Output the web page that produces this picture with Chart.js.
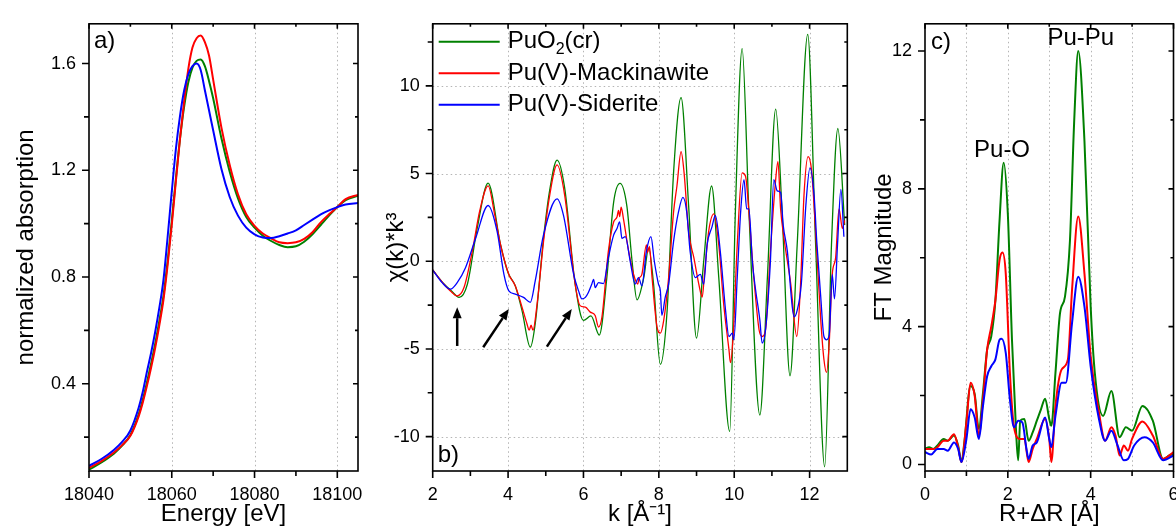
<!DOCTYPE html>
<html>
<head>
<meta charset="utf-8">
<script src="https://cdn.jsdelivr.net/npm/chart.js@4.4.1/dist/chart.umd.min.js"></script>
<style>
  html, body { margin: 0; padding: 0; background: #fff; overflow: hidden; width: 1176px; height: 529px; }
  canvas { position: absolute; top: 0; }
</style>
</head>
<body>
<canvas id="panelA" width="390" height="529" style="left:0px"></canvas>
<canvas id="panelB" width="490" height="529" style="left:366px"></canvas>
<canvas id="panelC" width="340" height="529" style="left:856px"></canvas>
<script>
// series names (legend of panel b)
var seriesNames = ['PuO₂(cr)', 'Pu(V)-Mackinawite', 'Pu(V)-Siderite'];

// ---- panel a: XANES ----
var energy = [18040, 18043, 18046, 18048, 18050, 18052, 18053, 18054, 18055, 18056, 18057, 18058, 18059, 18060,
  18061, 18062, 18063, 18064, 18065, 18066, 18067, 18068, 18069, 18070, 18072, 18074, 18076, 18078, 18080,
  18082, 18084, 18086, 18088, 18090, 18092, 18094, 18096, 18098, 18100, 18102, 18105];
var xanesPuO2 = [0.078, 0.105, 0.138, 0.168, 0.208, 0.285, 0.340, 0.405, 0.475, 0.550, 0.635, 0.730, 0.860, 1.010,
  1.170, 1.320, 1.440, 1.530, 1.585, 1.610, 1.615, 1.590, 1.535, 1.470, 1.320, 1.195, 1.095, 1.025, 0.985,
  0.955, 0.935, 0.920, 0.912, 0.915, 0.932, 0.960, 0.995, 1.030, 1.062, 1.088, 1.105];
var xanesMack = [0.085, 0.110, 0.142, 0.170, 0.205, 0.278, 0.330, 0.392, 0.460, 0.535, 0.620, 0.715, 0.845, 0.995,
  1.160, 1.320, 1.460, 1.580, 1.660, 1.695, 1.705, 1.680, 1.630, 1.540, 1.360, 1.220, 1.110, 1.035, 0.992,
  0.963, 0.945, 0.930, 0.927, 0.930, 0.943, 0.968, 1.005, 1.035, 1.062, 1.092, 1.108];
var xanesSid = [0.092, 0.118, 0.152, 0.182, 0.225, 0.310, 0.370, 0.445, 0.515, 0.595, 0.685, 0.790, 0.950, 1.120,
  1.280, 1.405, 1.500, 1.560, 1.590, 1.600, 1.575, 1.500, 1.425, 1.350, 1.205, 1.100, 1.030, 0.985, 0.960,
  0.948, 0.946, 0.953, 0.963, 0.975, 0.995, 1.015, 1.035, 1.050, 1.062, 1.072, 1.077];
var aTicksX = [18040, 18060, 18080, 18100];
var aMinorX = [18050, 18070, 18090];
var aTicksY = [0.4, 0.8, 1.2, 1.6];
var aMinorY = [0.2, 0.6, 1.0, 1.4];

// ---- panel b: k^3 weighted EXAFS, [k, chi*k^3] ----
var exafsPuO2 = [[2.0,-0.5],[2.3,-1.3],[2.5,-1.7],[2.7,-2.06],[2.92,-1.31],[3.18,1.87],[3.47,4.45],[3.8,0.94],
  [4.0,-0.66],[4.19,-1.4],[4.37,-2.81],[4.59,-4.9],[4.72,-3.56],[4.94,1.31],[5.1,4.0],[5.3,5.77],[5.5,4.2],
  [5.78,-1.31],[6.0,-3.37],[6.2,-3.12],[6.42,-4.21],[6.62,-0.93],[6.8,3.36],[6.97,4.44],[7.15,3.17],[7.29,0.0],
  [7.42,-2.2],[7.6,-0.93],[7.73,0.75],[7.86,-1.3],[8.04,-5.88],[8.22,-2.8],[8.39,5.04],[8.59,9.33],[8.79,3.17],
  [9.0,-4.38],[9.19,0.0],[9.4,4.29],[9.59,-0.93],[9.88,-9.7],[10.03,2.8],[10.21,12.13],[10.39,2.8],[10.68,-8.77],
  [10.88,-0.93],[11.1,8.68],[11.27,2.8],[11.48,-6.53],[11.67,0.93],[11.95,12.94],[12.16,0.93],[12.4,-11.72],
  [12.58,0.93],[12.75,7.57],[12.93,2.07]];
var exafsMack = [[2.0,-0.5],[2.3,-1.31],[2.47,-1.69],[2.65,-1.97],[2.83,-1.5],[3.05,0.56],[3.25,2.9],[3.47,4.3],
  [3.65,2.6],[3.8,0.94],[4.02,-0.75],[4.19,-1.4],[4.37,-2.62],[4.5,-3.56],[4.56,-3.93],[4.61,-3.65],[4.66,-3.93],
  [4.77,-2.43],[4.94,1.12],[5.1,3.7],[5.3,5.49],[5.5,3.79],[5.78,-1.31],[5.91,-2.53],[6.05,-2.62],[6.18,-2.9],
  [6.31,-3.09],[6.4,-3.75],[6.49,-3.18],[6.66,0.56],[6.8,2.24],[6.89,2.52],[6.93,2.9],[6.96,2.55],[7.0,3.08],
  [7.06,2.43],[7.2,0.56],[7.33,-0.75],[7.44,-1.3],[7.47,-1.0],[7.55,-0.75],[7.67,0.93],[7.7,0.5],[7.75,0.85],
  [7.82,-0.93],[7.95,-3.73],[8.04,-4.1],[8.13,-3.36],[8.26,-0.93],[8.39,2.8],[8.48,4.29],[8.59,6.25],[8.67,5.04],
  [8.79,1.68],[8.93,0.19],[9.06,-1.3],[9.15,-2.05],[9.21,-0.75],[9.32,1.68],[9.46,2.7],[9.59,0.93],[9.72,-2.43],
  [9.86,-5.04],[9.9,-5.78],[9.97,-4.29],[10.08,0.93],[10.21,5.04],[10.3,4.85],[10.39,2.8],[10.52,-0.93],
  [10.66,-3.92],[10.74,-4.29],[10.83,-3.92],[10.96,0.56],[11.1,4.66],[11.16,5.69],[11.23,2.99],[11.32,1.31],
  [11.5,-1.3],[11.66,-4.29],[11.76,-1.3],[11.85,3.73],[11.96,5.97],[12.05,5.22],[12.16,1.68],[12.29,-3.17],
  [12.38,-5.6],[12.45,-6.34],[12.52,-4.66],[12.6,-0.75],[12.69,0.19],[12.78,2.99],[12.87,1.87],[12.93,2.33]];
var exafsSid = [[2.0,-0.5],[2.25,-1.22],[2.47,-1.59],[2.65,-1.22],[2.87,-0.37],[3.14,1.31],[3.47,3.18],[3.71,1.69],
  [3.89,-0.75],[4.02,-1.69],[4.19,-1.87],[4.41,-2.06],[4.59,-2.34],[4.72,-1.12],[4.94,1.5],[5.3,3.56],[5.47,2.62],
  [5.74,-0.75],[5.87,-1.69],[5.96,-2.15],[6.05,-2.06],[6.13,-1.78],[6.22,-1.31],[6.27,-1.03],[6.31,-1.5],
  [6.4,-1.22],[6.53,-1.27],[6.66,0.19],[6.8,1.49],[6.89,1.87],[6.96,2.24],[7.02,1.31],[7.11,1.4],[7.24,0.0],
  [7.37,-1.3],[7.46,-0.93],[7.55,-1.4],[7.67,0.56],[7.79,1.4],[7.88,0.0],[7.99,-1.3],[8.04,-1.68],[8.08,-3.08],
  [8.17,-2.05],[8.26,-1.3],[8.39,1.12],[8.52,2.8],[8.64,3.64],[8.74,2.8],[8.83,0.56],[8.97,-0.93],[9.1,-0.75],
  [9.19,-1.3],[9.28,0.93],[9.41,1.96],[9.5,2.61],[9.63,0.56],[9.77,-2.8],[9.86,-4.29],[9.95,-4.1],[9.99,-4.48],
  [10.08,-0.93],[10.17,2.8],[10.26,4.66],[10.33,2.99],[10.39,2.99],[10.48,0.0],[10.57,-1.68],[10.68,-3.36],
  [10.74,-4.66],[10.83,-3.92],[10.96,0.0],[11.05,4.66],[11.14,4.01],[11.23,3.92],[11.3,2.05],[11.41,0.56],
  [11.54,-2.61],[11.59,-3.17],[11.67,-2.8],[11.78,-1.3],[11.9,3.17],[12.01,5.32],[12.12,3.73],[12.19,1.12],
  [12.29,-1.87],[12.38,-4.29],[12.45,-4.48],[12.52,-4.2],[12.6,-0.75],[12.66,-2.15],[12.74,0.93],[12.83,4.1],
  [12.91,1.4]];
var bTicksX = [4, 6, 8, 10, 12];
var bLabelX = [2, 4, 6, 8, 10, 12];
var bMinorX = [3, 5, 7, 9, 11];
var bTicksY = [-10, -5, 0, 5, 10];
var bMinorY = [-7.5, -2.5, 2.5, 7.5, 12.5];
// arrows in panel b: [k tail, chi tail, k head, chi head]
var bArrows = [[2.65, -4.83, 2.65, -2.62], [3.34, -4.9, 4.02, -2.72], [5.03, -4.87, 5.69, -2.72]];

// ---- panel c: Fourier transform magnitude, [R, |FT|] ----
var ftPuO2 = [[0,0.45],[0.1,0.5],[0.2,0.45],[0.3,0.55],[0.45,0.74],[0.55,0.69],[0.7,0.84],[0.8,0.55],[0.88,0.07],
  [0.95,0.64],[1.1,2.28],[1.2,2.04],[1.3,1.03],[1.4,2.08],[1.5,3.33],[1.6,3.72],[1.7,4.77],[1.8,7.08],[1.9,8.76],
  [2.0,7.27],[2.1,3.62],[2.2,0.93],[2.25,0.12],[2.3,1.27],[2.4,1.32],[2.5,0.69],[2.6,0.93],[2.7,1.27],[2.8,1.6],
  [2.9,1.91],[3.0,1.32],[3.05,1.12],[3.15,2.66],[3.26,4.39],[3.38,4.87],[3.5,6.5],[3.6,9.9],[3.7,12.0],[3.85,9.39],
  [4.0,4.58],[4.1,2.66],[4.3,1.41],[4.5,2.13],[4.7,0.79],[4.85,1.08],[5.0,0.98],[5.25,1.7],[5.5,1.27],[5.75,0.16],
  [5.9,0.26],[6.0,0.31]];
var ftMack = [[0,0.45],[0.2,0.45],[0.3,0.5],[0.45,0.69],[0.55,0.69],[0.7,0.88],[0.8,0.5],[0.88,0.07],[1.0,1.22],
  [1.1,2.37],[1.2,1.99],[1.3,0.84],[1.4,1.89],[1.5,3.33],[1.6,4.0],[1.7,4.77],[1.8,5.93],[1.87,6.15],[1.95,5.54],
  [2.05,2.66],[2.15,1.08],[2.3,0.74],[2.4,0.74],[2.5,0.07],[2.6,0.45],[2.7,0.74],[2.9,1.32],[3.0,0.74],[3.05,0.07],
  [3.15,1.7],[3.3,2.76],[3.45,3.05],[3.55,5.06],[3.7,7.2],[3.85,5.54],[4.0,3.14],[4.2,1.51],[4.35,0.69],[4.5,1.08],
  [4.6,0.84],[4.7,0.26],[4.8,0.55],[4.9,0.4],[5.0,0.74],[5.25,1.25],[5.5,0.84],[5.75,0.16],[6.0,0.36]];
var ftSid = [[0,0.36],[0.15,0.29],[0.3,0.45],[0.45,0.45],[0.55,0.4],[0.7,0.64],[0.8,0.45],[0.88,0.07],[1.0,0.74],
  [1.1,1.6],[1.2,1.36],[1.3,0.74],[1.4,1.7],[1.5,2.56],[1.6,2.85],[1.7,3.05],[1.8,3.62],[1.85,3.65],[1.95,3.24],
  [2.05,1.89],[2.15,1.08],[2.25,1.27],[2.35,1.22],[2.45,0.45],[2.5,0.16],[2.6,0.55],[2.7,0.64],[2.9,1.36],[3.0,0.74],
  [3.05,0.5],[3.15,1.41],[3.3,2.37],[3.4,2.37],[3.55,4.1],[3.7,5.45],[3.85,4.58],[4.0,2.85],[4.2,1.32],[4.35,0.69],
  [4.5,0.98],[4.65,0.55],[4.8,0.12],[4.9,0.16],[5.05,0.55],[5.3,0.79],[5.5,0.64],[5.75,0.12],[6.0,0.26]];
var cTicksX = [0, 2, 4, 6];
var cMinorX = [1, 3, 5];
var cGridX = [1, 2, 3, 4, 5];
var cTicksY = [0, 4, 8, 12];
var cMinorY = [2, 6, 10];

var colors = ['rgb(0,128,0)', 'rgb(255,0,0)', 'rgb(0,0,255)'];
var FONT = '"Liberation Sans", Arial, sans-serif';
var tickFont = { family: FONT, size: 18 };
var titleFont = { family: FONT, size: 24 };

// draws text, rendering "₂" as a lowered small 2
function richText(ctx, text, x, y, size) {
  var parts = text.split('₂');
  ctx.textAlign = 'left';
  ctx.textBaseline = 'middle';
  var cx = x;
  parts.forEach(function (p, i) {
    if (i > 0) {
      ctx.font = Math.round(size * 0.65) + 'px ' + FONT;
      ctx.fillText('2', cx, y + size * 0.32);
      cx += ctx.measureText('2').width;
    }
    ctx.font = size + 'px ' + FONT;
    ctx.fillText(p, cx, y);
    cx += ctx.measureText(p).width;
  });
}

// grid, frame, ticks, labels, legend and arrows
var decor = {
  id: 'decor',
  beforeDatasetsDraw: function (chart, args, o) {
    var ctx = chart.ctx, a = chart.chartArea, x = chart.scales.x, y = chart.scales.y;
    ctx.save();
    ctx.strokeStyle = '#b4b4b4';
    ctx.lineWidth = 1;
    ctx.setLineDash([1.5, 3]);
    ctx.beginPath();
    (o.gridX || []).forEach(function (v) {
      var p = Math.round(x.getPixelForValue(v)) + 0.5;
      ctx.moveTo(p, a.top); ctx.lineTo(p, a.bottom);
    });
    (o.gridY || []).forEach(function (v) {
      var p = Math.round(y.getPixelForValue(v)) + 0.5;
      ctx.moveTo(a.left, p); ctx.lineTo(a.right, p);
    });
    ctx.stroke();
    ctx.restore();
  },
  afterDatasetsDraw: function (chart, args, o) {
    var ctx = chart.ctx, a = chart.chartArea, x = chart.scales.x, y = chart.scales.y;
    ctx.save();
    ctx.strokeStyle = '#000';
    ctx.lineWidth = 1.6;
    ctx.strokeRect(a.left, a.top, a.right - a.left, a.bottom - a.top);
    ctx.beginPath();
    function xt(vals, len) {
      vals.forEach(function (v) {
        var p = x.getPixelForValue(v);
        ctx.moveTo(p, a.bottom); ctx.lineTo(p, a.bottom + len);
        ctx.moveTo(p, a.top); ctx.lineTo(p, a.top + len - 2);
      });
    }
    function yt(vals, len) {
      vals.forEach(function (v) {
        var p = y.getPixelForValue(v);
        ctx.moveTo(a.left, p); ctx.lineTo(a.left - len, p);
        ctx.moveTo(a.right, p); ctx.lineTo(a.right - len + 2, p);
      });
    }
    xt(o.majorX, 7); xt(o.minorX, 5);
    yt(o.majorY, 7); yt(o.minorY, 5);
    ctx.stroke();

    ctx.fillStyle = '#000';
    (o.notes || []).forEach(function (n) {
      ctx.font = '24px ' + FONT;
      ctx.textBaseline = 'middle';
      if (n.data) {
        ctx.textAlign = 'center';
        ctx.fillText(n.text, x.getPixelForValue(n.data[0]), y.getPixelForValue(n.data[1]));
      } else {
        ctx.textAlign = 'left';
        var yy = n.fromBottom ? a.bottom - n.dy : a.top + n.dy;
        ctx.fillText(n.text, a.left + n.dx, yy);
      }
    });

    if (o.legend) {
      o.legend.forEach(function (name, i) {
        var ly = a.top + 18 + i * 31.5;
        ctx.strokeStyle = colors[i];
        ctx.lineWidth = 2;
        ctx.beginPath();
        ctx.moveTo(a.left + 6, ly); ctx.lineTo(a.left + 67, ly);
        ctx.stroke();
        ctx.fillStyle = '#000';
        richText(ctx, name, a.left + 75, ly, 24);
      });
    }

    (o.arrows || []).forEach(function (ar) {
      var x0 = x.getPixelForValue(ar[0]), y0 = y.getPixelForValue(ar[1]);
      var x1 = x.getPixelForValue(ar[2]), y1 = y.getPixelForValue(ar[3]);
      var ang = Math.atan2(y1 - y0, x1 - x0), hl = 11, hw = 4.5;
      var bx = x1 - hl * Math.cos(ang), by = y1 - hl * Math.sin(ang);
      ctx.strokeStyle = '#000';
      ctx.lineWidth = 2.5;
      ctx.beginPath();
      ctx.moveTo(x0, y0); ctx.lineTo(bx, by);
      ctx.stroke();
      ctx.fillStyle = '#000';
      ctx.beginPath();
      ctx.moveTo(x1, y1);
      ctx.lineTo(bx + hw * Math.sin(ang), by - hw * Math.cos(ang));
      ctx.lineTo(bx - hw * Math.sin(ang), by + hw * Math.cos(ang));
      ctx.closePath();
      ctx.fill();
    });
    ctx.restore();
  }
};

function toPts(xs, ys) {
  return xs.map(function (v, i) { return { x: v, y: ys[i] }; });
}
function pairs(list) {
  return list.map(function (p) { return { x: p[0], y: p[1] }; });
}
function line(pts, i, w) {
  return {
    data: pts, borderColor: colors[i], borderWidth: w, pointRadius: 0,
    cubicInterpolationMode: 'monotone', fill: false, order: 3 - i
  };
}

function axis(min, max, ticks, fmt, title, size, pad, titlePad, horizontal) {
  return {
    type: 'linear', min: min, max: max,
    grid: { display: false, drawTicks: false }, border: { display: false },
    afterBuildTicks: function (s) { s.ticks = ticks.map(function (v) { return { value: v }; }); },
    afterFit: function (s) { if (horizontal) s.height = size; else s.width = size; },
    ticks: { padding: pad, color: '#000', font: tickFont, autoSkip: false, maxRotation: 0, callback: fmt },
    title: { display: true, text: title, color: '#000', font: titleFont, padding: titlePad }
  };
}

function makeChart(id, datasets, scales, padRight, decorOpts) {
  return new Chart(document.getElementById(id).getContext('2d'), {
    type: 'line',
    data: { datasets: datasets },
    options: {
      responsive: false, animation: false, devicePixelRatio: 1, events: [],
      layout: { padding: { left: 0, top: 15, right: padRight, bottom: 0 } },
      scales: scales,
      plugins: { legend: { display: false }, tooltip: { enabled: false }, decor: decorOpts }
    },
    plugins: [decor]
  });
}

var str = function (v) { return String(v); };

// panel a
makeChart('panelA', [
  line(toPts(energy, xanesPuO2), 0, 2),
  line(toPts(energy, xanesMack), 1, 2),
  line(toPts(energy, xanesSid), 2, 2)
], {
  x: axis(18040, 18105, aTicksX, str, 'Energy [eV]', 58, 13.5, { top: 0, bottom: 0.5 }, true),
  y: axis(0.073, 1.749, aTicksY, function (v) { return v.toFixed(1); }, 'normalized absorption', 89, 13, { top: 12, bottom: 0 }, false)
}, 32, {
  gridX: [18060, 18080, 18100],
  majorX: aTicksX, minorX: aMinorX, majorY: aTicksY, minorY: aMinorY,
  notes: [{ text: 'a)', dx: 5, dy: 18 }]
});

// panel b
makeChart('panelB', [
  line(pairs(exafsPuO2), 0, 1.3),
  line(pairs(exafsMack), 1, 1.3),
  line(pairs(exafsSid), 2, 1.3)
], {
  x: axis(2, 13, bLabelX, str, 'k [Å⁻¹]', 58, 13.5, { top: 0, bottom: 0.5 }, true),
  y: axis(-11.96, 13.54, bTicksY, str, 'χ(k)*k³', 66.7, 13, { top: 15.5, bottom: 0 }, false)
}, 8.7, {
  gridX: bTicksX, gridY: bTicksY,
  majorX: bLabelX, minorX: bMinorX, majorY: bTicksY, minorY: bMinorY,
  notes: [{ text: 'b)', dx: 5, dy: 16, fromBottom: true }],
  legend: seriesNames,
  arrows: bArrows
});

// panel c
makeChart('panelC', [
  line(pairs(ftPuO2), 0, 2),
  line(pairs(ftMack), 1, 2),
  line(pairs(ftSid), 2, 2)
], {
  x: axis(0, 6, cTicksX, str, 'R+ΔR [Å]', 58, 13.5, { top: 0, bottom: 0.5 }, true),
  y: axis(-0.19, 12.79, cTicksY, str, 'FT Magnitude', 69, 13, { top: 13.5, bottom: 0 }, false)
}, 22.5, {
  gridX: cGridX,
  majorX: cTicksX, minorX: cMinorX, majorY: cTicksY, minorY: cMinorY,
  notes: [{ text: 'c)', dx: 6, dy: 19 }, { text: 'Pu-O', data: [1.86, 9.12] }, { text: 'Pu-Pu', data: [3.76, 12.36] }]
});
</script>
</body>
</html>
